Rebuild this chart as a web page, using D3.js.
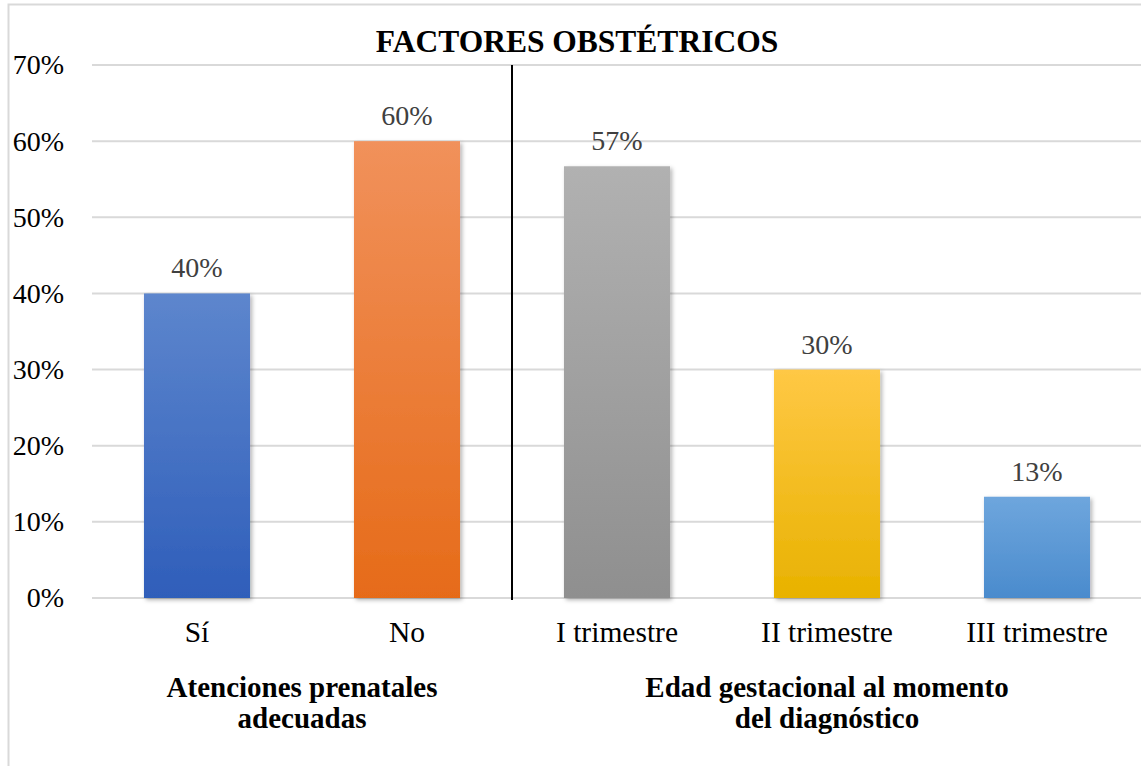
<!DOCTYPE html>
<html>
<head>
<meta charset="utf-8">
<script src="https://cdn.jsdelivr.net/npm/d3@7"></script>
<style>
  body { margin: 0; background: #fff; }
  svg { display: block; }
  svg text { font-family: "Liberation Serif", "Times New Roman", Tinos, "DejaVu Serif", serif; }
</style>
</head>
<body>
<svg id="chart" width="1141" height="766"></svg>
<script>
// data
const categories = ["Sí", "No", "I trimestre", "II trimestre", "III trimestre"];
const values = [0.40, 0.60, 0.567, 0.30, 0.133];
const valueLabels = ["40%", "60%", "57%", "30%", "13%"];
const groupNames = [["Atenciones prenatales", "adecuadas"], ["Edad gestacional al momento", "del diagnóstico"]];
const groupSizes = [2, 3];
const yTicks = [0, 0.1, 0.2, 0.3, 0.4, 0.5, 0.6, 0.7];
const colors = [
  ["#5d86cd", "#2f5eba"],
  ["#f1915b", "#e66b19"],
  ["#b1b1b1", "#8f8f8f"],
  ["#ffc845", "#e8b200"],
  ["#6ea6dd", "#4a8bcd"]
];

const svg = d3.select("#chart");
const margin = { top: 65, left: 92, right: 0, bottom: 168 };
const W = +svg.attr("width"), H = +svg.attr("height");

// outer chart border (right/bottom run off the picture)
svg.append("rect")
  .attr("x", 8.5).attr("y", 4.5)
  .attr("width", 1300).attr("height", 900)
  .attr("fill", "none").attr("stroke", "#d9d9d9").attr("stroke-width", 2);

const x = d3.scaleBand()
  .domain(categories)
  .range([margin.left, W + 1])
  .paddingInner(0.495).paddingOuter(0.2475);

const y = d3.scaleLinear()
  .domain([0, 0.7])
  .range([H - margin.bottom, margin.top]);

const defs = svg.append("defs");
colors.forEach((c, i) => {
  const g = defs.append("linearGradient").attr("id", "g" + i)
    .attr("x1", 0).attr("y1", 0).attr("x2", 0).attr("y2", 1);
  g.append("stop").attr("offset", "0%").attr("stop-color", c[0]);
  g.append("stop").attr("offset", "100%").attr("stop-color", c[1]);
});
const f = defs.append("filter").attr("id", "shadow")
  .attr("x", "-10%").attr("y", "-10%").attr("width", "130%").attr("height", "130%");
f.append("feDropShadow").attr("dx", 2).attr("dy", 2).attr("stdDeviation", 2)
  .attr("flood-color", "#000").attr("flood-opacity", 0.3);

// gridlines
svg.append("g")
  .selectAll("line")
  .data(yTicks)
  .join("line")
  .attr("x1", margin.left).attr("x2", W)
  .attr("y1", d => y(d)).attr("y2", d => y(d))
  .attr("stroke", "#d9d9d9").attr("stroke-width", 2);

// y axis labels
const yAxis = svg.append("g")
  .attr("transform", "translate(" + 72 + ",0)")
  .call(d3.axisLeft(y).tickValues(yTicks).tickFormat(d3.format(".0%")).tickSize(0).tickPadding(8))
  .attr("font-family", null);
yAxis.select(".domain").remove();
yAxis.selectAll("text")
  .attr("font-size", 28).attr("fill", "#000");

// bars
svg.append("g")
  .selectAll("rect")
  .data(categories)
  .join("rect")
  .attr("x", d => x(d))
  .attr("width", x.bandwidth())
  .attr("y", (d, i) => y(values[i]))
  .attr("height", (d, i) => y(0) - y(values[i]))
  .attr("fill", (d, i) => "url(#g" + i + ")")
  .attr("filter", "url(#shadow)");

// value labels
svg.append("g")
  .selectAll("text")
  .data(categories)
  .join("text")
  .attr("x", d => x(d) + x.bandwidth() / 2)
  .attr("y", (d, i) => y(values[i]) - 16)
  .attr("text-anchor", "middle")
  .attr("font-size", 28).attr("fill", "#404040")
  .text((d, i) => valueLabels[i]);

// x axis category labels
const xAxis = svg.append("g")
  .attr("transform", "translate(0," + y(0) + ")")
  .call(d3.axisBottom(x).tickSize(0).tickPadding(23))
  .attr("font-family", null);
xAxis.select(".domain").remove();
xAxis.selectAll("text")
  .attr("font-size", 29.5).attr("fill", "#000");

// group separator and group labels
const step = x.step();
let start = 0;
groupSizes.forEach((n, gi) => {
  const x0 = margin.left + start * step;
  const x1 = margin.left + (start + n) * step;
  if (gi > 0) {
    svg.append("line")
      .attr("x1", x0).attr("x2", x0)
      .attr("y1", y(0.7)).attr("y2", y(0) + 2)
      .attr("stroke", "#000").attr("stroke-width", 2);
  }
  const t = svg.append("text")
    .attr("x", (x0 + x1) / 2).attr("y", 697)
    .attr("text-anchor", "middle")
    .attr("font-size", 29).attr("font-weight", "bold").attr("fill", "#000");
  groupNames[gi].forEach((line, li) => {
    t.append("tspan").attr("x", (x0 + x1) / 2).attr("dy", li ? 31 : 0).text(line);
  });
  start += n;
});

// title
svg.append("text")
  .attr("x", 577).attr("y", 52)
  .attr("text-anchor", "middle")
  .attr("font-size", 31.5).attr("font-weight", "bold").attr("fill", "#000")
  .text("FACTORES OBSTÉTRICOS");
</script>
</body>
</html>
